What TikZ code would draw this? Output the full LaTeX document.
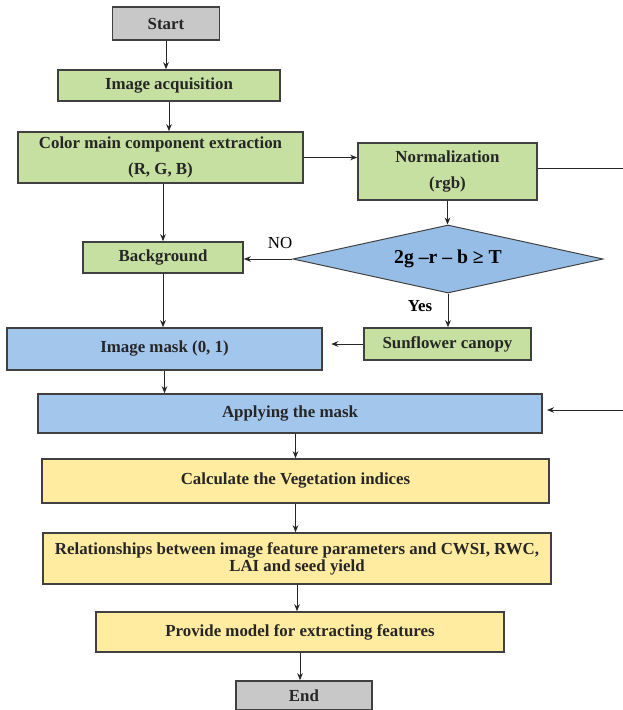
\documentclass[tikz,border=0pt]{standalone}
\usepackage{fontspec}
\setmainfont{Liberation Serif}
\usetikzlibrary{shapes.geometric,arrows.meta}
\definecolor{boxgray}{RGB}{200,200,200}
\definecolor{boxgreen}{RGB}{197,224,160}
\definecolor{boxblue}{RGB}{163,198,236}
\definecolor{condblue}{RGB}{150,189,230}
\definecolor{boxyellow}{RGB}{255,236,160}
\begin{document}
\begin{tikzpicture}[x=0.025cm, y=-0.025cm, >={Stealth[length=5pt,width=4pt]}]
            \tikzstyle{box}=[rectangle, draw=black!75, line width=1.1pt, inner sep=2pt, align=center, font=\fontsize{12}{14}\selectfont\bfseries, text=black!85]
            \tikzstyle{graybox}=[box, fill=boxgray]
            \tikzstyle{greenbox}=[box, fill=boxgreen]
            \tikzstyle{bluebox}=[box, fill=boxblue]
            \tikzstyle{yellowbox}=[box, fill=boxyellow]
            \tikzstyle{cond}=[diamond, aspect=4.5, draw=black!75, line width=0.7pt, fill=condblue, inner sep=0pt, font=\fontsize{14}{16}\selectfont\bfseries]
            \tikzstyle{lbl}=[inner sep=1pt, font=\fontsize{12}{14}\selectfont]
            \tikzstyle{line}=[line width=0.6pt, black!85]
            \useasboundingbox (0,0) rectangle (623,710);
            \node[graybox, minimum width=2.675cm, minimum height=0.825cm] (start) at (166,23.5) {Start};
            \node[greenbox, minimum width=5.55cm, minimum height=0.775cm] (acq) at (169,85.5) {Image acquisition};
            \node[greenbox, minimum width=7.125cm, minimum height=1.275cm] (color) at (160.5,157.5) {Color main component extraction\\[5pt](R, G, B)};
            \node[greenbox, minimum width=4.475cm, minimum height=1.425cm] (norm) at (447.5,171.5) {Normalization\\[5pt](rgb)};
            \node[cond, minimum width=7.75cm, minimum height=1.7cm] (test) at (448,259) {2g --r -- b ≥ T};
            \node[greenbox, minimum width=4cm, minimum height=0.775cm] (bg) at (163,257.5) {Background};
            \node[greenbox, minimum width=4.175cm, minimum height=0.8cm] (sun) at (447.5,344) {Sunflower canopy};
            \node[bluebox, minimum width=7.875cm, minimum height=1.05cm] (mask) at (164.5,349) {Image mask (0, 1)};
            \node[bluebox, minimum width=12.6cm, minimum height=0.975cm] (apply) at (290,413.5) {Applying the mask};
            \node[yellowbox, minimum width=12.675cm, minimum height=1.1cm] (calc) at (295.5,481) {Calculate the Vegetation indices};
            \node[yellowbox, minimum width=12.7cm, minimum height=1.275cm, font=\fontsize{12}{12}\selectfont\bfseries] (rel) at (297,558.5) {Relationships between image feature parameters and CWSI, RWC,\\LAI and seed yield};
            \node[yellowbox, minimum width=10.2cm, minimum height=1cm] (prov) at (300,632) {Provide model for extracting features};
            \node[graybox, minimum width=3.4cm, minimum height=0.725cm] (fin) at (304,695.5) {End};
            \node[lbl] (no) at (280,243) {NO};
            \node[lbl, font=\fontsize{12}{14}\selectfont\bfseries] (yes) at (420,306) {Yes};
            \coordinate (rtop) at (623,168);
            \coordinate (rbot) at (623,410);
            \path [->, line] (start) edge[] (start |- acq.north);
            \path [->, line] (acq) edge[] (acq |- color.north);
            \path [->, line] (color.south -| bg) edge[] (bg.north);
            \path [->, line] (color) edge[] (color -| norm.west);
            \path [line] (norm.east |- rtop) edge[] (rtop);
            \path [->, line] (norm) edge[] (norm |- test.north);
            \path [->, line] (test.west) edge[] (test.west -| bg.east);
            \path [->, line] (test.south) edge[] (test.south |- sun.north);
            \path [->, line] (sun) edge[shorten >=6pt] (sun -| mask.east);
            \path [->, line] (bg) edge[] (bg |- mask.north);
            \path [->, line] (mask) edge[] (mask |- apply.north);
            \path [->, line] (rbot) edge[shorten >=3pt] (rbot -| apply.east);
            \path [->, line] (calc |- apply.south) edge[] (calc.north);
            \path [->, line] (calc) edge[] (calc |- rel.north);
            \path [->, line] (rel) edge[] (rel |- prov.north);
            \path [->, line] (prov) edge[] (prov |- fin.north);
\end{tikzpicture}
\end{document}
